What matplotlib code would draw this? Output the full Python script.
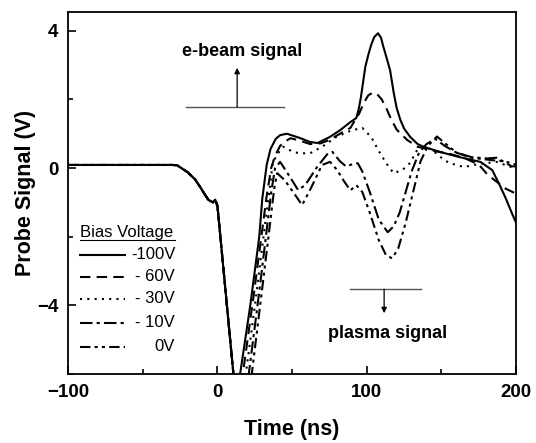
"""Probe signal vs time for several bias voltages."""

import matplotlib
matplotlib.use("Agg")
import matplotlib.pyplot as plt
from matplotlib.ticker import MultipleLocator

plt.rcParams["font.family"] = ["Liberation Sans", "DejaVu Sans"]

OUTPUT_PNG = "out.png"

# shared pre-pulse segment (all traces overlap here)
t_pre = [-100, -30, -27, -20, -15, -11.6, -8, -6, -3, -1.5, 0, 10.7]
v_pre = [0.09, 0.09, 0.08, -0.12, -0.33, -0.55, -0.8, -0.93, -1.0, -0.92, -1.1, -6.0]

t_100 = [12.5, 15.2, 22, 28, 30, 33, 35.5, 39, 42, 46.5, 55, 62, 67, 75, 82, 89, 93,
         94.5, 96, 97.5, 99, 101, 103, 105, 107.5, 109.5, 111, 113, 115.6, 118,
         120, 122.5, 125, 129, 134, 138, 149, 162, 176, 184, 189, 193, 197, 200]
v_100 = [-6.8, -6.0, -4.0, -2.0, -0.9, 0.1, 0.55, 0.85, 0.96, 1.0, 0.88, 0.76, 0.73,
         0.9, 1.1, 1.34, 1.46, 1.7, 2.05, 2.5, 2.95, 3.3, 3.6, 3.82, 3.93, 3.8,
         3.55, 3.25, 2.85, 2.2, 1.75, 1.4, 1.15, 0.91, 0.7, 0.62, 0.47, 0.32, 0.18,
         -0.06, -0.5, -0.88, -1.3, -1.6]

t_60 = [13.5, 17, 24, 30, 33, 36, 38.5, 42, 47, 49, 55, 62, 69, 75, 82, 89, 95,
        98, 101, 104, 107, 110, 113, 116, 120, 127, 134, 138, 145, 155, 165, 175,
        181, 187, 193, 200]
v_60 = [-7.0, -6.0, -3.8, -1.8, -0.8, 0.0, 0.35, 0.65, 0.82, 0.87, 0.8, 0.7, 0.72,
        0.82, 1.0, 1.17, 1.6, 1.9, 2.12, 2.2, 2.15, 2.0, 1.75, 1.45, 1.12, 0.82,
        0.62, 0.58, 0.5, 0.42, 0.3, 0.1, -0.2, -0.4, -0.6, -0.75]

t_30 = [15, 19, 26, 32, 35, 37, 40, 44, 50.7, 55, 62, 70, 80, 90, 97, 103, 108,
        113, 118, 124, 129, 134, 138, 143, 150, 155, 165, 175, 187, 195, 200]
v_30 = [-7.0, -6.0, -3.7, -1.6, -0.6, 0.14, 0.4, 0.62, 0.47, 0.43, 0.43, 0.62,
        0.92, 1.1, 1.17, 0.9, 0.5, 0.14, -0.15, -0.05, 0.15, 0.55, 0.6, 0.55,
        0.3, 0.15, 0.03, 0.12, 0.18, 0.05, 0.0]

t_10 = [16, 21, 28, 33, 36, 38.6, 42, 48.7, 54, 58.7, 66.7, 74, 77, 82, 86, 91,
        94, 97, 102, 108, 114, 118, 122, 126, 130, 135, 140, 146, 152, 160, 170,
        180, 187, 193, 197, 200]
v_10 = [-7.0, -6.0, -3.6, -1.8, -0.7, 0.0, 0.18, -0.27, -0.64, -0.5, 0.03, 0.43,
        0.47, 0.2, 0.05, 0.12, 0.14, -0.1, -0.7, -1.5, -1.87, -1.7, -1.3, -0.7,
        -0.1, 0.45, 0.7, 0.85, 0.65, 0.45, 0.32, 0.28, 0.3, 0.15, 0.05, 0.05]

t_0 = [17, 23, 30, 35, 38, 40, 45, 50.7, 56.7, 63, 70, 75.4, 80, 85, 89, 93, 97,
       102, 108, 113, 117, 121, 126, 131, 136, 141, 147, 153, 160, 170, 180, 186,
       192, 200]
v_0 = [-7.0, -6.0, -3.5, -1.7, -0.6, -0.15, -0.35, -0.7, -1.08, -0.55, 0.09, 0.18,
       -0.05, -0.4, -0.65, -0.5, -0.7, -1.3, -2.1, -2.55, -2.63, -2.35, -1.6, -0.7,
       0.2, 0.65, 0.92, 0.7, 0.45, 0.3, 0.25, 0.22, 0.2, 0.1]

labels = ["-100V", "- 60V", "- 30V", "- 10V", "0V"]
series = [(t_100, v_100), (t_60, v_60), (t_30, v_30), (t_10, v_10), (t_0, v_0)]
styles = ["-", (0, (5, 3)), (0, (1, 2.5)), (0, (6, 2, 1.5, 2)),
          (0, (5, 2, 1.5, 2, 1.5, 2))]


def main():
    fig = plt.figure(figsize=(5.36, 4.43), dpi=100)
    ax = fig.add_axes([0.127, 0.156, 0.836, 0.817])

    for (t, v), ls in zip(series, styles):
        ax.plot(t_pre + t, v_pre + v, color="black", lw=1.5, linestyle=ls)

    ax.set_xlim(-100, 200)
    ax.set_ylim(-6, 4.55)
    ax.xaxis.set_major_locator(MultipleLocator(100))
    ax.xaxis.set_minor_locator(MultipleLocator(50))
    ax.yaxis.set_major_locator(MultipleLocator(4))
    ax.yaxis.set_minor_locator(MultipleLocator(2))
    ax.tick_params(which="both", direction="in", width=1.2, labelsize=13.5, pad=7)
    ax.tick_params(which="major", length=6)
    ax.tick_params(which="minor", length=3.5)
    for lab in ax.get_xticklabels() + ax.get_yticklabels():
        lab.set_fontweight("bold")
    for sp in ax.spines.values():
        sp.set_linewidth(1.3)

    ax.set_xlabel("Time (ns)", fontsize=15.5, fontweight="bold", labelpad=13)
    ax.set_ylabel("Probe Signal (V)", fontsize=15.5, fontweight="bold", labelpad=1)

    # e-beam / plasma markers
    ax.plot([-21, 44.6], [1.78, 1.78], color="#555555", lw=1.0)
    ax.annotate("", xy=(13.2, 2.92), xytext=(13.2, 1.78),
                arrowprops=dict(arrowstyle="-|>", color="black", lw=0.9,
                                mutation_scale=8, shrinkA=0, shrinkB=0))
    ax.text(16.8, 3.39, "e-beam signal", ha="center", va="center",
            fontsize=13, fontweight="bold")
    ax.plot([88.8, 136.4], [-3.53, -3.53], color="#555555", lw=1.0)
    ax.annotate("", xy=(111.6, -4.23), xytext=(111.6, -3.53),
                arrowprops=dict(arrowstyle="-|>", color="black", lw=0.9,
                                mutation_scale=8, shrinkA=0, shrinkB=0))
    ax.text(114, -4.82, "plasma signal", ha="center", va="center",
            fontsize=13, fontweight="bold")

    # hand-made legend
    ax.text(0.027, 0.392, "Bias Voltage", transform=ax.transAxes,
            ha="left", va="center", fontsize=12)
    ax.plot([0.027, 0.239], [0.370, 0.370], transform=ax.transAxes,
            color="black", lw=0.8)
    ys = [0.329, 0.268, 0.207, 0.141, 0.075]
    for y, lab, ls in zip(ys, labels, styles):
        ax.plot([0.027, 0.128], [y, y], transform=ax.transAxes,
                color="black", lw=1.5, linestyle=ls)
        ax.text(0.239, y, lab, transform=ax.transAxes, ha="right",
                va="center", fontsize=12)

    fig.savefig(OUTPUT_PNG, dpi=100)


if __name__ == "__main__":
    main()
